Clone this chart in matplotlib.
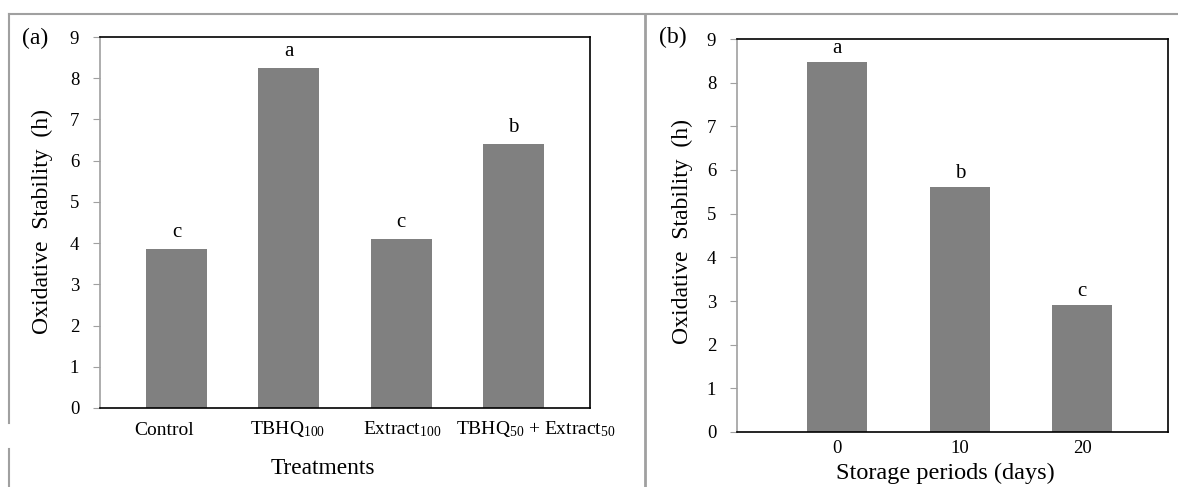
import matplotlib
matplotlib.use("Agg")
import matplotlib.pyplot as plt
from matplotlib.lines import Line2D
from matplotlib.transforms import ScaledTranslation
import numpy as np

plt.rcParams['font.family'] = ['Liberation Serif', 'DejaVu Serif']
plt.rcParams['mathtext.fontset'] = 'custom'
plt.rcParams['mathtext.rm'] = 'Liberation Serif'
plt.rcParams['mathtext.it'] = 'Liberation Serif:italic'

# Panel (a)
treatments = ["Control", r"TBHQ$_{\mathrm{100}}$", r"Extract$_{\mathrm{100}}$",
              r"TBHQ$_{\mathrm{50}}$ + Extract$_{\mathrm{50}}$"]
stability_a = [3.86, 8.26, 4.10, 6.41]
letters_a = ["c", "a", "c", "b"]

# Panel (b)
periods = ["0", "10", "20"]
stability_b = [8.47, 5.60, 2.90]
letters_b = ["a", "b", "c"]

W, H = 1178, 487
fig = plt.figure(figsize=(W / 100, H / 100), dpi=100)

def fx(x):
    return x / W

def fy(y):
    return 1 - y / H

bar_color = "#808080"
gray_axis = "#a0a0a0"

def style_axes(ax):
    for s in ["top", "right", "bottom"]:
        ax.spines[s].set_color("black")
        ax.spines[s].set_linewidth(1.2)
    ax.spines["left"].set_color(gray_axis)
    ax.spines["left"].set_linewidth(1.2)
    ax.set_ylim(0, 9)
    ax.set_yticks(range(0, 10))
    ax.tick_params(axis="y", direction="out", length=5, color=gray_axis,
                   labelsize=13.5, pad=10)
    ax.tick_params(axis="x", length=0, labelsize=14)

# ---- Panel (a)
ax_l, ax_r, ax_t, ax_b = 100, 590, 37, 408
axa = fig.add_axes([fx(ax_l), fy(ax_b), fx(ax_r) - fx(ax_l), fy(ax_t) - fy(ax_b)])
xa = np.arange(len(treatments))
axa.bar(xa, stability_a, width=0.54, color=bar_color)
axa.set_xlim(-0.68, 3.68)
style_axes(axa)
axa.set_xticks(xa)
axa.set_xticklabels(treatments)
axa.tick_params(axis="x", pad=8)
label_shift_px = [-12, -1, 1, 22]
label_shift_py = [-3, 0, 0, 0]
for lbl, dx, dy in zip(axa.get_xticklabels(), label_shift_px, label_shift_py):
    lbl.set_transform(lbl.get_transform() + ScaledTranslation(dx / 100, dy / 100, fig.dpi_scale_trans))
for x, v, t in zip(xa, stability_a, letters_a):
    axa.annotate(t, (x, v), xytext=(0, 5), textcoords="offset points",
                 ha="center", va="bottom", fontsize=15)
axa.set_ylabel("Oxidative  Stability  (h)", fontsize=17)
axa.yaxis.set_label_coords((53 - ax_l) / (ax_r - ax_l), 0.504)
axa.set_xlabel("Treatments", fontsize=16.8)
axa.xaxis.set_label_coords((323 - ax_l) / (ax_r - ax_l), -0.135)
fig.text(fx(22), fy(38), "(a)", fontsize=17, va="center", ha="left")

# ---- Panel (b)
bx_l, bx_r, bx_t, bx_b = 737, 1168, 39, 432
axb = fig.add_axes([fx(bx_l), fy(bx_b), fx(bx_r) - fx(bx_l), fy(bx_t) - fy(bx_b)])
xb = np.arange(len(periods))
axb.bar(xb, stability_b, width=0.49, color=bar_color)
axb.set_xlim(-0.82, 2.70)
style_axes(axb)
axb.set_xticks(xb)
axb.set_xticklabels(periods)
axb.tick_params(axis="x", pad=6, labelsize=13.5)
for x, v, t in zip(xb, stability_b, letters_b):
    axb.annotate(t, (x, v), xytext=(0, 3), textcoords="offset points",
                 ha="center", va="bottom", fontsize=15)
axb.set_ylabel("Oxidative  Stability  (h)", fontsize=17)
axb.yaxis.set_label_coords((693 - bx_l) / (bx_r - bx_l), 0.511)
axb.set_xlabel("Storage periods (days)", fontsize=17.5)
axb.xaxis.set_label_coords((945 - bx_l) / (bx_r - bx_l), -0.078)
fig.text(fx(659), fy(37), "(b)", fontsize=17, va="center", ha="left")

# ---- Panel frame lines
border = "#a0a0a0"
fig.add_artist(Line2D([fx(9), 1.0], [fy(14), fy(14)], color=border, lw=1.5))
fig.add_artist(Line2D([fx(9), fx(9)], [fy(14), fy(423)], color=border, lw=1.5))
fig.add_artist(Line2D([fx(9), fx(9)], [fy(449), 0.0], color=border, lw=1.5))
fig.add_artist(Line2D([fx(645), fx(645)], [fy(14), 0.0], color=border, lw=2))

fig.savefig("out.png", dpi=100)
